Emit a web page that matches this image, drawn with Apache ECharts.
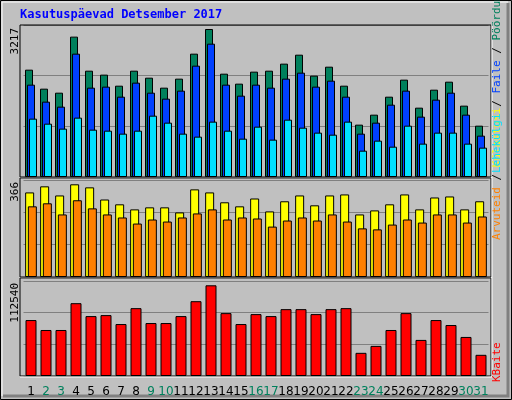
<!DOCTYPE html>
<html><head><meta charset="utf-8">
<script src="https://cdn.jsdelivr.net/npm/echarts@6/dist/echarts.min.js"></script>
<style>html,body{margin:0;padding:0;background:#c0c0c0}#c{width:512px;height:400px}</style>
</head><body><div id="c"></div>
<script>
const days = ['1','2','3','4','5','6','7','8','9','10','11','12','13','14','15','16','17','18','19','20','21','22','23','24','25','26','27','28','29','30','31'];
const weekend = ['2','3','9','10','16','17','23','24','30','31'];
const hits = [2333,1920,1833,3051,2311,2225,1985,2311,2159,1942,2138,2681,3217,2246,2029,2290,2311,2464,2659,2203,2398,1985,1138,1355,1746,2116,1507,1898,2072,1551,1116];
const files = [2007,1638,1529,2681,1942,1964,1746,2051,1833,1703,1877,2420,2898,2007,1768,2007,1942,2138,2268,1964,2094,1746,942,1181,1572,1877,1312,1681,1833,1355,899];
const pages = [1268,1159,1051,1290,1029,1007,942,1007,1333,1181,942,877,1203,1007,833,1094,812,1246,1072,964,920,1203,572,790,659,1116,725,964,964,725,638];
const visits = [334,358,322,366,354,306,287,267,275,275,255,346,334,295,279,310,259,299,322,283,322,326,247,263,287,326,267,314,318,267,299];
const sites = [279,291,247,303,271,247,235,211,227,219,235,251,267,227,235,231,199,223,235,223,247,219,192,188,207,227,215,247,247,215,239];
const kbytes = [69410,57090,57090,90350,74340,75570,64480,84190,65710,65710,74340,92820,112540,78030,64480,76800,74340,82960,82960,76800,82960,84190,28750,37370,57090,78030,44770,69410,63250,48460,26280];
const maxLabels = ['3217','366','112540'];

const ch = echarts.init(document.getElementById('c'));
const axMax = [3304, 383, 117880];
const grids = [{left:23.5,right:23.5,top:25,height:152},{left:23.5,right:23.5,top:180,height:97},{left:23.5,right:23.5,top:281,height:95}];
const xAxes = grids.map((g,i)=>({type:'category',gridIndex:i,data:days,boundaryGap:true,
  axisLine:{show:false},axisTick:{show:false},
  axisLabel:{show:i===2,interval:0,margin:10,fontFamily:'DejaVu Sans',fontSize:12,
    formatter:v=>weekend.includes(v)?'{g|'+v+'}':'{k|'+v+'}',
    rich:{g:{color:'#00805c',fontSize:12,fontFamily:'DejaVu Sans'},k:{color:'#000',fontSize:12,fontFamily:'DejaVu Sans'}}}}));
const yAxes = grids.map((g,i)=>({type:'value',gridIndex:i,min:0,max:axMax[i],interval:axMax[i]/3,
  axisLabel:{show:false},axisLine:{show:false},axisTick:{show:false},
  splitLine:{lineStyle:{color:'#808080',width:1}}}));
const bs = {borderColor:'#000',borderWidth:1};
function bar(data,color,gi,w,gap){return {type:'bar',data,xAxisIndex:gi,yAxisIndex:gi,barWidth:w,barGap:gap,
  itemStyle:Object.assign({color},bs),animation:false,silent:true};}
const series = [
  bar(hits,'#00805c',0,8,'-75%'), bar(files,'#0040ff',0,8,'-75%'), bar(pages,'#00e0ff',0,8,'-75%'),
  bar(visits,'#ffff00',1,9,'-70%'), bar(sites,'#ff8000',1,9,'-70%'),
  bar(kbytes,'#ff0000',2,11,'0%')
];
const mono = 'DejaVu Sans Mono';
function vtext(x,y,rich,txt,align){return {type:'text',x,y,rotation:Math.PI/2,z:10,
  style:{text:txt,rich,align:align||'left',verticalAlign:'middle',font:'11px '+mono}};}
function panel(y1,y2){return [
  {type:'rect',shape:{x:20,y:y1,width:471,height:y2-y1},style:{fill:'none',stroke:'#000',lineWidth:1},z:5},
  {type:'polyline',shape:{points:[[20,y2+1],[492,y2+1],[492,y1]]},style:{stroke:'#fff',lineWidth:1,fill:null},z:5}
];}
ch.setOption({
  animation:false,
  backgroundColor:'#c0c0c0',
  grid:grids, xAxis:xAxes, yAxis:yAxes, series,
  graphic:[
    {type:'rect',shape:{x:0.5,y:0.5,width:511,height:399},style:{fill:'none',stroke:'#000',lineWidth:1}},
    {type:'polyline',shape:{points:[[3,396],[508,396],[508,3]]},style:{stroke:'#808080',lineWidth:3,fill:null}},
    {type:'polyline',shape:{points:[[2,396],[2,2],[508,2]]},style:{stroke:'#fff',lineWidth:1,fill:null}},
    {type:'text',x:20,y:15,style:{text:'Kasutuspäevad Detsember 2017',font:'bold 12px '+mono,fill:'#0000ff',verticalAlign:'middle'}},
    ...panel(25,177),...panel(178,277),...panel(278,376),
    vtext(15,28,null,maxLabels[0],'right'), vtext(15,182,null,maxLabels[1],'right'), vtext(15,283,null,maxLabels[2],'right'),
    {type:'text',x:497,y:173,rotation:Math.PI/2,z:10,style:{align:'left',verticalAlign:'middle',font:'11px '+mono,
      text:'{c|Lehekülgi} {s|/} {b|Faile} {s|/} {g|Pöördumisi}',
      rich:{c:{fill:'#00e0ff',font:'11px '+mono},b:{fill:'#0040ff',font:'11px '+mono},g:{fill:'#00805c',font:'11px '+mono},s:{fill:'#000',font:'11px '+mono}}}},
    {type:'text',x:497,y:240,rotation:Math.PI/2,z:9,style:{align:'left',verticalAlign:'middle',font:'11px '+mono,
      text:'{o|Arvuteid} {s|/} {y|Külastusi}',
      rich:{o:{fill:'#ff8000',font:'11px '+mono},y:{fill:'#ffff00',font:'11px '+mono},s:{fill:'#000',font:'11px '+mono}}}},
    {type:'text',x:497,y:382,rotation:Math.PI/2,z:10,style:{align:'left',verticalAlign:'middle',font:'11px '+mono,text:'KBaite',fill:'#ff0000'}}
  ]
});
</script></body></html>
